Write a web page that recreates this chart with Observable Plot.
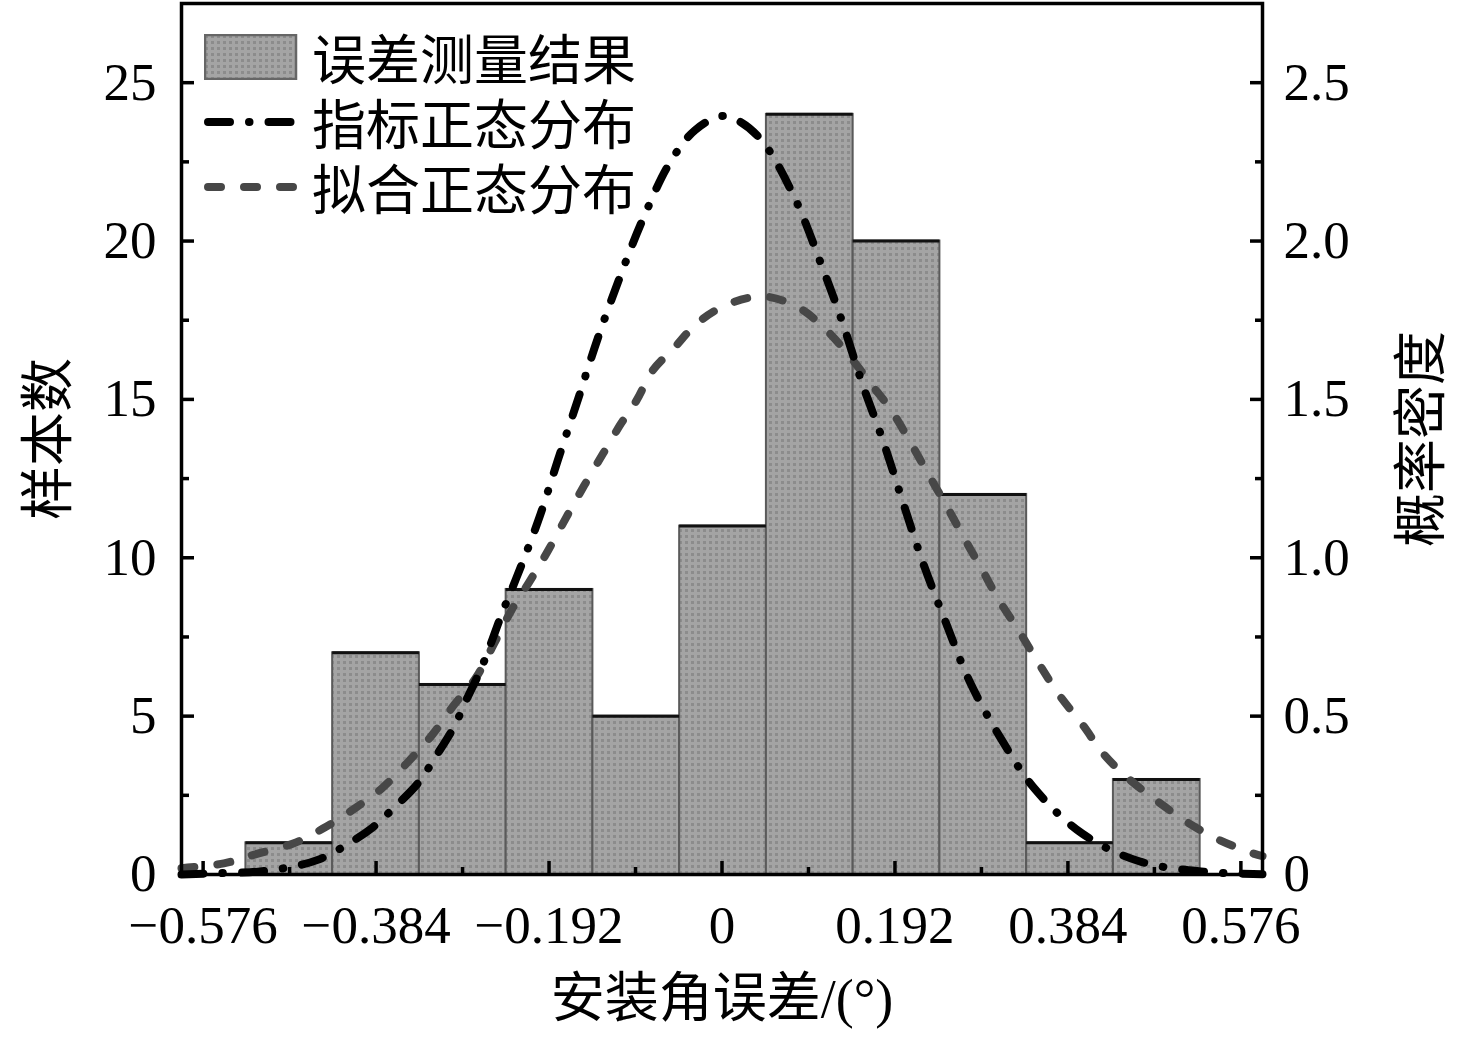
<!DOCTYPE html>
<html><head><meta charset="utf-8">
<script src="https://cdn.jsdelivr.net/npm/d3@7"></script>
<script src="https://cdn.jsdelivr.net/npm/@observablehq/plot@0.6"></script>
<style>
body{margin:0;background:#fff;}
#wrap{position:relative;width:1476px;height:1039px;}
#legend{position:absolute;left:204px;top:24px;font-family:'Liberation Serif','Noto Sans CJK SC',serif;font-size:54px;color:#000;}
.row{display:flex;align-items:center;height:65px;white-space:nowrap;}
.row svg{margin-right:13px;display:block;}
</style></head><body>
<div id="wrap"><div id="legend"></div></div>
<script>
// histogram
const binEdges = [-0.5285, -0.4322, -0.3359, -0.2396, -0.1433, -0.0470, 0.0493, 0.1456, 0.2419, 0.3382, 0.4345, 0.5308];
const counts = [1, 7, 6, 9, 5, 11, 24, 20, 12, 1, 3];

// 指标正态分布
const indexX = [-0.600, -0.560, -0.515, -0.480, -0.448, -0.416, -0.388, -0.364, -0.337, -0.317, -0.298, -0.283, -0.267, -0.243, -0.229, -0.204, -0.182, -0.160, -0.138, -0.114, -0.088, -0.058, -0.030, 0.000, 0.021, 0.047, 0.082, 0.109, 0.133, 0.155, 0.179, 0.201, 0.223, 0.248, 0.275, 0.309, 0.347, 0.400, 0.464, 0.535, 0.600];
const indexDensity = [0.000, 0.004, 0.009, 0.023, 0.047, 0.095, 0.148, 0.211, 0.290, 0.376, 0.464, 0.556, 0.653, 0.833, 0.931, 1.117, 1.310, 1.499, 1.692, 1.881, 2.068, 2.247, 2.350, 2.395, 2.375, 2.307, 2.128, 1.935, 1.749, 1.556, 1.367, 1.174, 0.985, 0.799, 0.609, 0.432, 0.271, 0.129, 0.041, 0.009, 0.001];

// 拟合正态分布
const fitX = [-0.600, -0.553, -0.519, -0.476, -0.443, -0.408, -0.378, -0.349, -0.323, -0.297, -0.273, -0.253, -0.234, -0.213, -0.193, -0.173, -0.153, -0.132, -0.112, -0.095, -0.077, -0.053, -0.027, 0.008, 0.047, 0.085, 0.113, 0.143, 0.165, 0.188, 0.210, 0.230, 0.249, 0.269, 0.288, 0.307, 0.329, 0.351, 0.374, 0.401, 0.424, 0.452, 0.484, 0.517, 0.552, 0.590, 0.600];
const fitDensity = [0.020, 0.035, 0.063, 0.098, 0.145, 0.208, 0.271, 0.354, 0.436, 0.537, 0.622, 0.729, 0.833, 0.928, 1.023, 1.127, 1.228, 1.329, 1.424, 1.496, 1.591, 1.663, 1.742, 1.802, 1.825, 1.790, 1.727, 1.632, 1.550, 1.465, 1.360, 1.259, 1.165, 1.061, 0.966, 0.868, 0.772, 0.669, 0.568, 0.470, 0.379, 0.301, 0.230, 0.164, 0.109, 0.066, 0.058];

// ticks
const xTickValues = [-0.576, -0.384, -0.192, 0, 0.192, 0.384, 0.576];
const xTickLabels = ["−0.576", "−0.384", "−0.192", "0", "0.192", "0.384", "0.576"];
const xMinorTicks = [-0.48, -0.288, -0.096, 0.096, 0.288, 0.48];
const yTickValues = [0, 5, 10, 15, 20, 25];
const yTickLabels = ["0", "5", "10", "15", "20", "25"];
const yMinorTicks = [2.5, 7.5, 12.5, 17.5, 22.5];
const rightTickLabels = ["0", "0.5", "1.0", "1.5", "2.0", "2.5"];

const seriesNames = ["误差测量结果", "指标正态分布", "拟合正态分布"];
const titles = {left: "样本数", right: "概率密度", bottom: "安装角误差/(°)"};

const bars = counts.map((n, i) => ({x1: binEdges[i], x2: binEdges[i + 1], n}));
const idx = indexX.map((x, i) => ({x, d: indexDensity[i]}));
const fit = fitX.map((x, i) => ({x, d: fitDensity[i]}));

const font = "'Liberation Serif','Noto Sans CJK SC',serif";
const fs = 53;
const dashFit = "13,23";
const dashIdx = "22,19,0.5,19";
const lw = 8;

const chart = Plot.plot({
  width: 1476, height: 1039,
  marginLeft: 181, marginRight: 214, marginTop: 3, marginBottom: 165,
  x: {domain: [-0.6, 0.6]},
  y: {domain: [0, 27.5]},
  style: {fontFamily: font, background: "white", color: "black", overflow: "visible"},
  marks: [
    Plot.rect(bars, {x1: "x1", x2: "x2", y1: 0, y2: "n", fill: "url(#dots)", stroke: "#5a5a5a", strokeWidth: 2}),
    Plot.ruleY(bars, {x1: "x1", x2: "x2", y: "n", stroke: "#111", strokeWidth: 3}),
    Plot.line(fit, {x: "x", y: d => d.d * 10, stroke: "#474747", strokeWidth: lw, strokeDasharray: dashFit, strokeLinecap: "round", curve: "catmull-rom"}),
    Plot.line(idx, {x: "x", y: d => d.d * 10, stroke: "#000", strokeWidth: lw, strokeDasharray: dashIdx, strokeLinecap: "round", curve: "catmull-rom"}),
    Plot.axisX(xTickValues, {anchor: "bottom", tickSize: -13, tickPadding: 44, strokeWidth: 3.5, fontSize: fs, label: null,
      tickFormat: d => xTickLabels[xTickValues.indexOf(d)]}),
    Plot.axisX(xMinorTicks, {anchor: "bottom", tickSize: -7, strokeWidth: 3.5, tickFormat: () => "", label: null}),
    Plot.axisY(yTickValues, {anchor: "left", tickSize: -13, tickPadding: 38, strokeWidth: 3.5, fontSize: fs, label: null,
      tickFormat: d => yTickLabels[yTickValues.indexOf(d)]}),
    Plot.axisY(yMinorTicks, {anchor: "left", tickSize: -8, strokeWidth: 3.5, tickFormat: () => "", label: null}),
    Plot.axisY(yTickValues, {anchor: "right", tickSize: -13, tickPadding: 34, strokeWidth: 3.5, fontSize: fs, label: null,
      tickFormat: d => rightTickLabels[yTickValues.indexOf(d)]}),
    Plot.axisY(yMinorTicks, {anchor: "right", tickSize: -8, strokeWidth: 3.5, tickFormat: () => "", label: null}),
    Plot.frame({stroke: "black", strokeWidth: 3.5}),
    Plot.text([titles.left], {text: d => d, frameAnchor: "left", textAnchor: "middle", dx: -132, rotate: -90, fontSize: 54}),
    Plot.text([titles.right], {text: d => d, frameAnchor: "right", textAnchor: "middle", dx: 160, rotate: -90, fontSize: 54}),
    Plot.text([titles.bottom], {text: d => d, frameAnchor: "bottom", dy: 142, fontSize: 54})
  ]
});

// texture pattern for bars
const ns = "http://www.w3.org/2000/svg";
const defs = document.createElementNS(ns, "defs");
defs.innerHTML = `<pattern id="dots" width="6" height="6" patternUnits="userSpaceOnUse">
  <rect width="6" height="6" fill="#a4a4a4"></rect>
  <rect x="1" y="1" width="3" height="3" fill="#8c8c8c"></rect>
</pattern>`;
chart.insertBefore(defs, chart.firstChild);
document.getElementById("wrap").insertBefore(chart, document.getElementById("legend"));

// legend
const legend = document.getElementById("legend");
const rows = [
  `<svg width="95" height="46"><rect x="1" y="1" width="91" height="44" fill="url(#dots)" stroke="#666" stroke-width="2.5"></rect></svg>`,
  `<svg width="95" height="20"><line x1="4" y1="10" x2="92" y2="10" stroke="#000" stroke-width="${lw}" stroke-linecap="round" stroke-dasharray="${dashIdx}"></line></svg>`,
  `<svg width="95" height="20"><line x1="4" y1="10" x2="92" y2="10" stroke="#474747" stroke-width="${lw}" stroke-linecap="round" stroke-dasharray="${dashFit}"></line></svg>`
];
seriesNames.forEach((name, i) => {
  const r = document.createElement("div");
  r.className = "row";
  r.innerHTML = rows[i] + `<span>${name}</span>`;
  legend.appendChild(r);
});
</script>
</body></html>
